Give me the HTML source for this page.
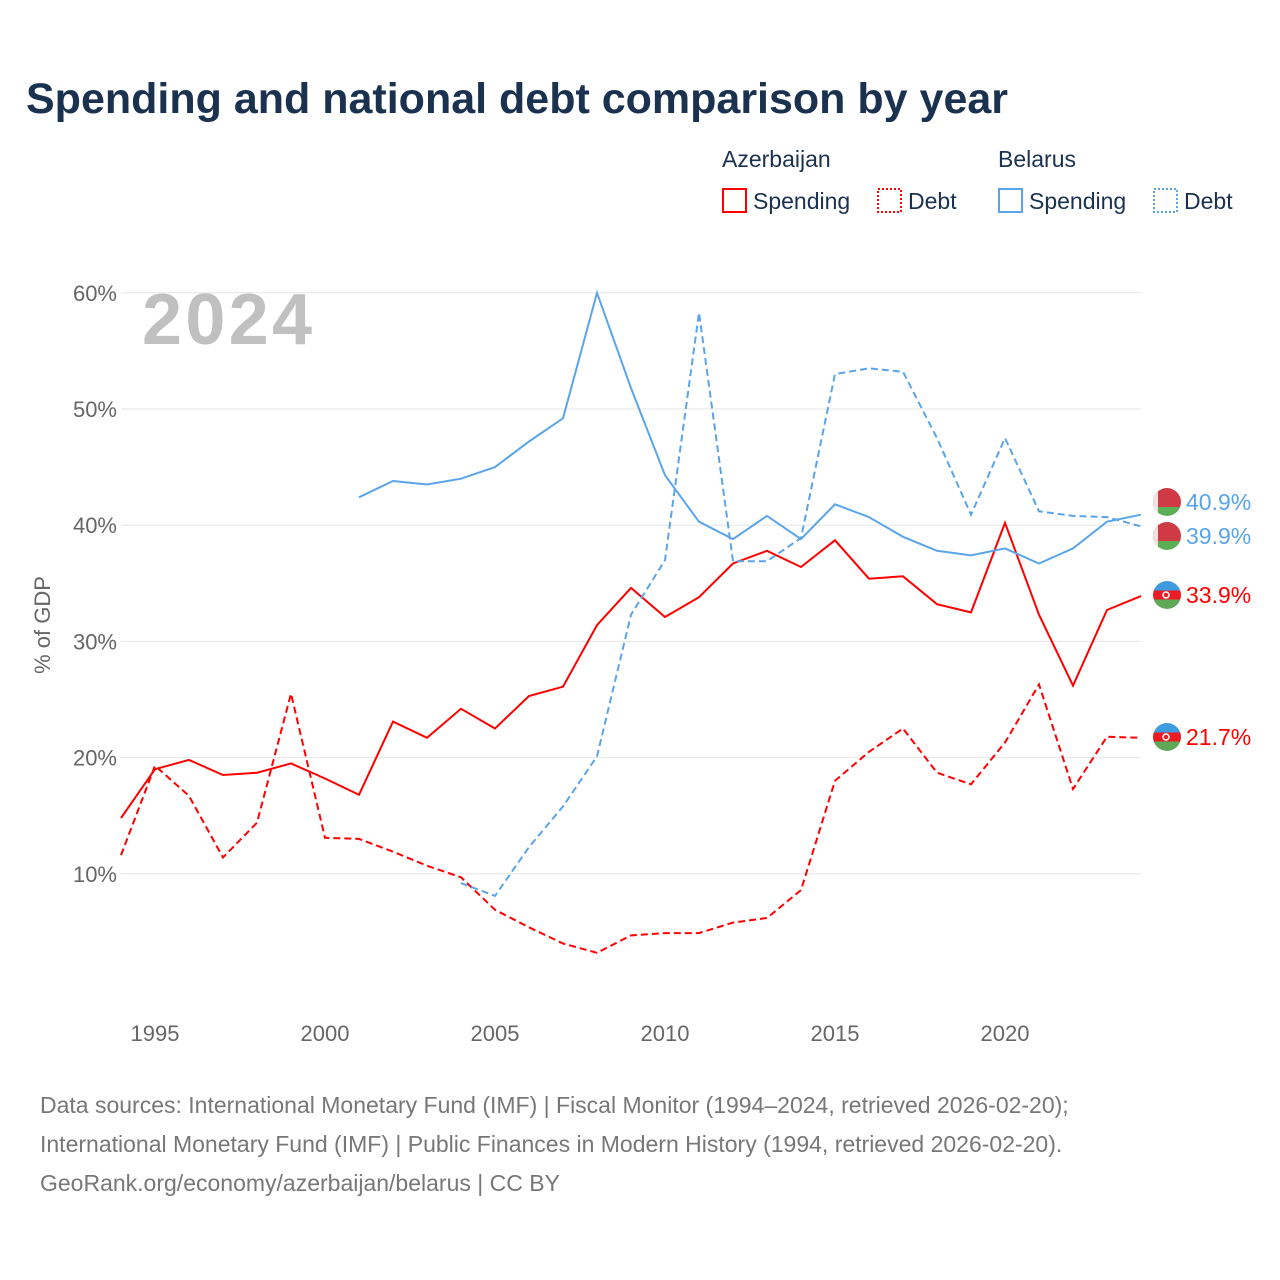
<!DOCTYPE html>
<html><head><meta charset="utf-8"><style>
body{margin:0;background:#fff;font-family:"Liberation Sans",sans-serif;}
#wrap{position:relative;width:1280px;height:1280px;overflow:hidden;}
</style></head><body>
<div id="wrap">
<svg id="svg" width="1280" height="1280"></svg>
</div>
<script>
const years=[];for(let y=1994;y<=2024;y++)years.push(y);
const azSpending=[14.8,19.0,19.8,18.5,18.7,19.5,18.2,16.8,23.1,21.7,24.2,22.5,25.3,26.1,31.4,34.6,32.1,33.8,36.7,37.8,36.4,38.7,35.4,35.6,33.2,32.5,40.2,32.3,26.2,32.7,33.9];
const azDebt=[11.6,19.3,16.7,11.4,14.4,25.5,13.1,13.0,11.9,10.7,9.7,6.9,5.4,4.0,3.2,4.7,4.9,4.9,5.8,6.2,8.6,18.0,20.5,22.5,18.7,17.7,21.3,26.3,17.3,21.8,21.7];
const byYears=[2001,2002,2003,2004,2005,2006,2007,2008,2009,2010,2011,2012,2013,2014,2015,2016,2017,2018,2019,2020,2021,2022,2023,2024];
const bySpending=[42.4,43.8,43.5,44.0,45.0,47.2,49.2,60.0,51.8,44.3,40.3,38.8,40.8,38.8,41.8,40.7,39.0,37.8,37.4,38.0,36.7,38.0,40.3,40.9];
const byDebtYears=[2004,2005,2006,2007,2008,2009,2010,2011,2012,2013,2014,2015,2016,2017,2018,2019,2020,2021,2022,2023,2024];
const byDebt=[9.2,8.1,12.3,15.8,20.1,32.3,37.0,58.3,36.9,36.9,38.9,53.0,53.5,53.2,47.5,40.9,47.5,41.2,40.8,40.7,39.9];
const yTicks=[10,20,30,40,50,60];
const xTicks=[1995,2000,2005,2010,2015,2020];

const NS="http://www.w3.org/2000/svg";const svg=document.getElementById('svg');
const x=v=>121+(v-1994)*34;const y=v=>990-v*11.62;
function el(t,a,txt,parent){const e=document.createElementNS(NS,t);for(const k in a)e.setAttribute(k,a[k]);if(txt!=null)e.textContent=txt;(parent||svg).appendChild(e);return e;}
let e;
e=el('text',{x:26,y:113,'font-size':43,'font-weight':'bold',fill:'#1a3150',textLength:982},'Spending and national debt comparison by year');

e=el('text',{x:142,y:344,'font-size':72,'font-weight':'bold',fill:'#c0c0c0',textLength:170},'2024');

yTicks.forEach(t=>{
 e=el('line',{x1:121,x2:1141,y1:y(t),y2:y(t),stroke:'#e6e6e6','stroke-width':1});
 
 e=el('text',{x:117,y:y(t)+8,'font-size':22,fill:'#666','text-anchor':'end'},t+'%');
 
});
xTicks.forEach(t=>{
 e=el('text',{x:x(t),y:1041,'font-size':22,fill:'#666','text-anchor':'middle'},t);
 
});
e=el('text',{x:0,y:0,'font-size':22,fill:'#666','text-anchor':'middle',transform:'translate(50,625) rotate(-90)'},'% of GDP');

function line(xs,vs,color,dash,name){
 const d=vs.map((v,i)=>(i?'L':'M')+x(xs[i]).toFixed(1)+','+y(v).toFixed(1)).join('');
 const p=el('path',{d:d,fill:'none',stroke:color,'stroke-width':2,'stroke-dasharray':dash||'none'});
 
}
line(years,azSpending,'#ff0000',null,'azerbaijan-spending-line');
line(years,azDebt,'#ff0000','7,4','azerbaijan-debt-line');
line(byYears,bySpending,'#5aa5ea',null,'belarus-spending-line');
line(byDebtYears,byDebt,'#5aa5ea','7,4','belarus-debt-line');
const defs=el('defs',{});
let fid=0;
function endLabel(v,cy,color,flag,name){
 const id='c'+(fid++);
 const cp=el('clipPath',{id:id},null,defs);el('circle',{cx:1167,cy:cy,r:14},null,cp);
 const g=el('g',{'clip-path':'url(#'+id+')'});
 
 if(flag==='by'){
  el('rect',{x:1153,y:cy-14,width:28,height:19,fill:'#cf3a44'},null,g);
  el('rect',{x:1153,y:cy+5,width:28,height:9,fill:'#5cae55'},null,g);
  el('rect',{x:1153,y:cy-14,width:5,height:28,fill:'#f3e0e0'},null,g);
 }else{
  el('rect',{x:1153,y:cy-14,width:28,height:9.5,fill:'#3f9be0'},null,g);
  el('rect',{x:1153,y:cy-4.5,width:28,height:9,fill:'#ed1c24'},null,g);
  el('rect',{x:1153,y:cy+4.5,width:28,height:9.5,fill:'#5fa85a'},null,g);
  el('circle',{cx:1166,cy:cy,r:3,fill:'none',stroke:'#fff','stroke-width':1.5},null,g);
 }
 e=el('text',{x:1186,y:cy+8,'font-size':23,fill:color},v.toFixed(1)+'%');
 
}
endLabel(bySpending[bySpending.length-1],502,'#5aa5ea','by','belarus-spending-value');
endLabel(byDebt[byDebt.length-1],536,'#5aa5ea','by','belarus-debt-value');
endLabel(azSpending[azSpending.length-1],595,'#ff0000','az','azerbaijan-spending-value');
endLabel(azDebt[azDebt.length-1],737,'#ff0000','az','azerbaijan-debt-value');
const lg=[[722,'Azerbaijan'],[998,'Belarus']];
lg.forEach(l=>{e=el('text',{x:l[0],y:167,'font-size':23,fill:'#1a3150'},l[1]);});
const items=[[722,'#ff0000',null,'Spending'],[877,'#ff0000','2,2','Debt'],[998,'#5aa5ea',null,'Spending'],[1153,'#5aa5ea','2,2','Debt']];
items.forEach(it=>{
 e=el('rect',{x:it[0]+1,y:189,width:23,height:23,fill:'none',stroke:it[1],'stroke-width':2,'stroke-dasharray':it[2]||'none'});
 
 e=el('text',{x:it[0]+31,y:209,'font-size':23,fill:'#1a3150'},it[3]);
 
});
const src=['Data sources: International Monetary Fund (IMF) | Fiscal Monitor (1994–2024, retrieved 2026-02-20);','International Monetary Fund (IMF) | Public Finances in Modern History (1994, retrieved 2026-02-20).','GeoRank.org/economy/azerbaijan/belarus | CC BY'];
src.forEach((s,i)=>{e=el('text',{x:40,y:1113+i*39,'font-size':23,fill:'#777'},s);});
</script>
</body></html>
